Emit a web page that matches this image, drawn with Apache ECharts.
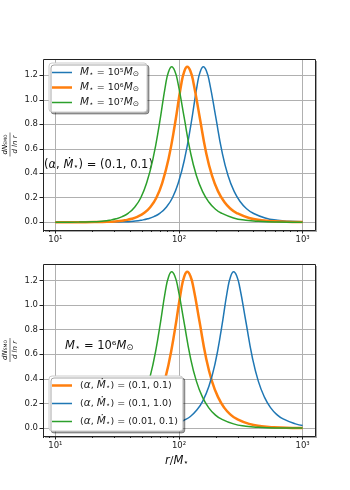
<!DOCTYPE html>
<html>
<head>
<meta charset="utf-8">
<title>dN/dlnr SMO</title>
<script src="https://cdn.jsdelivr.net/npm/echarts@6/dist/echarts.min.js"></script>
</head>
<body style="margin:0;background:#fff">
<div id="main" style="width:350px;height:490px;"></div>
<script>
// values: r/M* (log axis) and dN/dlnr
// top panel, (alpha, Mdot) = (0.1, 0.1)
var rBlueTop = [10, 19.82, 27.99, 35.24, 44.36, 49.77, 55.85, 62.66, 70.31, 78.89, 88.51, 99.31, 111.4, 125.0, 140.3, 148.6, 157.4, 166.7, 176.6, 198.2, 222.3, 249.5, 279.9, 314.1, 352.4, 395.4, 497.7, 626.6, 788.9, 1000];
var yBlueTop = [0, 0.0002, 0.001, 0.003, 0.01, 0.017, 0.028, 0.046, 0.075, 0.123, 0.20, 0.33, 0.525, 0.80, 1.12, 1.23, 1.27, 1.235, 1.14, 0.86, 0.58, 0.38, 0.25, 0.165, 0.11, 0.075, 0.035, 0.016, 0.007, 0.003];

var rOrange = [10, 14.69, 20.75, 26.12, 32.89, 36.90, 41.40, 46.45, 52.12, 58.48, 65.61, 73.62, 82.60, 92.68, 104.0, 110.2, 116.7, 123.6, 130.9, 146.9, 164.8, 184.9, 207.5, 232.8, 261.2, 293.1, 369.0, 464.5, 584.8, 826.0, 1000];
var yOrange = [0, 0.0002, 0.001, 0.003, 0.01, 0.017, 0.028, 0.046, 0.075, 0.123, 0.20, 0.33, 0.525, 0.80, 1.12, 1.23, 1.27, 1.235, 1.14, 0.86, 0.58, 0.38, 0.25, 0.165, 0.11, 0.075, 0.035, 0.016, 0.007, 0.002, 0.001];

var rGreen = [10, 10.99, 15.52, 19.54, 24.60, 27.61, 30.97, 34.75, 38.99, 43.75, 49.09, 55.08, 61.80, 69.34, 77.80, 82.41, 87.30, 92.47, 97.95, 109.9, 123.3, 138.4, 155.2, 174.2, 195.4, 219.3, 276.1, 347.5, 437.5, 618.0, 1000];
var yGreen = [0, 0.0002, 0.001, 0.003, 0.01, 0.017, 0.028, 0.046, 0.075, 0.123, 0.20, 0.33, 0.525, 0.80, 1.12, 1.23, 1.27, 1.235, 1.14, 0.86, 0.58, 0.38, 0.25, 0.165, 0.11, 0.075, 0.035, 0.016, 0.007, 0.002, 0.0005];

// bottom panel, M* = 1e6 ; the (0.1, 1.0) curve
var rBlueBot = [10, 20, 34.83, 49.20, 61.94, 77.98, 87.50, 98.18, 110.2, 123.6, 138.7, 155.6, 174.6, 195.9, 219.8, 246.6, 261.2, 276.7, 293.1, 310.5, 348.3, 390.8, 438.5, 492.0, 552.1, 619.4, 695.0, 875.0, 1000];
var yBlueBot = [0, 0.0002, 0.001, 0.004, 0.009, 0.02, 0.028, 0.042, 0.065, 0.095, 0.145, 0.22, 0.34, 0.525, 0.80, 1.12, 1.23, 1.27, 1.235, 1.14, 0.86, 0.58, 0.38, 0.25, 0.165, 0.11, 0.075, 0.035, 0.022];
var rOrangeBot = rOrange, yOrangeBot = yOrange;
var rGreenBot = rGreen, yGreenBot = yGreen;

var majorTicks = [10, 100, 1000];
var minorTicks = [8, 9, 20, 30, 40, 50, 60, 70, 80, 90, 200, 300, 400, 500, 600, 700, 800, 900];

var xMin = 7.943, xMax = 1258.9;   // 10^0.9 .. 10^3.1
var yMin = -0.0635, yMax = 1.333;

var FONT = 'DejaVu Sans';
var C_BLUE = '#1f77b4', C_ORANGE = '#ff7f0e', C_GREEN = '#2ca02c';
var supDigits = {1: '¹', 2: '²', 3: '³'};

// legend handles: a bar in a 20x10 box (thin / thick line)
var ICON_THIN = 'path://M0,0h20v0.01h-20zM0,4.25h20v1.5h-20zM0,9.99h20v0.01h-20z';
var ICON_THICK = 'path://M0,0h20v0.01h-20zM0,3.75h20v2.5h-20zM0,9.99h20v0.01h-20z';

function pairs(xs, ys) {
    return xs.map(function (x, i) { return [x, ys[i]]; });
}

var grids = [], xAxes = [], yAxes = [], frames = [];

function addPanel(top, height) {
    var g = grids.length;
    var yStep = height / (yMax - yMin);
    // frame grid (carries the data)
    grids.push({left: 43, top: top, width: 272, height: height, show: true,
        backgroundColor: '#fff', borderWidth: 0,
        shadowColor: 'rgba(0,0,0,0.35)', shadowOffsetX: 2, shadowOffsetY: 2, shadowBlur: 0});
    // tick grid for y labels / horizontal grid lines (0 .. 1.2)
    grids.push({left: 43, width: 272, top: top + (yMax - 1.2) * yStep, height: 1.2 * yStep, show: false});

    xAxes.push({gridIndex: g, type: 'log', logBase: 10, min: xMin, max: xMax,
        axisLine: {show: false}, axisTick: {show: false}, axisLabel: {show: false},
        splitLine: {show: true, showMinLine: false, showMaxLine: false, lineStyle: {color: '#b0b0b0', width: 1}}});
    xAxes.push({gridIndex: g, type: 'value', min: 0.9, max: 3.1, position: 'bottom',
        axisLine: {show: false}, splitLine: {show: false},
        axisTick: {show: true, length: 3.5, customValues: majorTicks.map(Math.log10), lineStyle: {color: '#222'}},
        axisLabel: {show: true, customValues: majorTicks.map(Math.log10), margin: 5,
            fontFamily: FONT, fontSize: 8.5, color: '#222',
            formatter: function (v) { return '10' + supDigits[Math.round(v)]; }}});
    xAxes.push({gridIndex: g, type: 'value', min: 0.9, max: 3.1, position: 'bottom',
        axisLine: {show: false}, splitLine: {show: false}, axisLabel: {show: false},
        axisTick: {show: true, length: 2, customValues: minorTicks.map(Math.log10), lineStyle: {color: '#222'}}});
    xAxes.push({gridIndex: g + 1, type: 'value', min: 0, max: 1, show: false});

    yAxes.push({gridIndex: g, type: 'value', min: yMin, max: yMax, show: false});
    yAxes.push({gridIndex: g + 1, type: 'value', min: 0, max: 1.2, interval: 0.2,
        axisLine: {show: false},
        axisTick: {show: true, length: 3.5, lineStyle: {color: '#222'}},
        axisLabel: {fontFamily: FONT, fontSize: 8.5, color: '#222', margin: 5,
            formatter: function (v) { return v.toFixed(1); }},
        splitLine: {show: true, lineStyle: {color: '#b0b0b0', width: 1}}});

    frames.push({type: 'rect', z: 50, silent: true,
        shape: {x: 43.5, y: top + 0.5, width: 272, height: height},
        style: {fill: null, stroke: '#222', lineWidth: 1}});
    return {x: xAxes.length - 4, y: yAxes.length - 2};
}

var pTop = addPanel(59, 171);
var pBot = addPanel(264, 172);

function line(name, xs, ys, color, width, p) {
    return {name: name, type: 'line', xAxisIndex: p.x, yAxisIndex: p.y,
        data: pairs(xs, ys), showSymbol: false, symbol: 'none',
        smooth: 0.5,
        lineStyle: {color: color, width: width}, itemStyle: {color: color}};
}

var series = [
    line('M5', rBlueTop, yBlueTop, C_BLUE, 1.5, pTop),
    line('M6', rOrange, yOrange, C_ORANGE, 2.5, pTop),
    line('M7', rGreen, yGreen, C_GREEN, 1.5, pTop),
    line('a01m01', rOrangeBot, yOrangeBot, C_ORANGE, 2.5, pBot),
    line('a01m10', rBlueBot, yBlueBot, C_BLUE, 1.5, pBot),
    line('a001m01', rGreenBot, yGreenBot, C_GREEN, 1.5, pBot)
];

var legendText = {
    M5: '{i|M}{s|⋆} = 10⁵{i|M}{s|⊙}',
    M6: '{i|M}{s|⋆} = 10⁶{i|M}{s|⊙}',
    M7: '{i|M}{s|⋆} = 10⁷{i|M}{s|⊙}',
    a01m01: '({i|α}, {i|Ṁ}{s|⋆}) = (0.1, 0.1)',
    a01m10: '({i|α}, {i|Ṁ}{s|⋆}) = (0.1, 1.0)',
    a001m01: '({i|α}, {i|Ṁ}{s|⋆}) = (0.01, 0.1)'
};
var richMath = {
    i: {fontFamily: FONT, fontStyle: 'italic', fontSize: 10.5, color: '#222'},
    s: {fontFamily: FONT, fontSize: 7.5, color: '#222', verticalAlign: 'bottom'}
};
function legendBox(items, top, gap, padRight) {
    return {data: items, orient: 'vertical', left: 49, top: top,
        itemWidth: 20, itemHeight: 10, itemGap: gap, padding: [4, padRight, 4, 3],
        backgroundColor: '#fff', borderColor: '#cccccc', borderWidth: 1, borderRadius: 3,
        shadowColor: 'rgba(0,0,0,0.35)', shadowOffsetX: 2, shadowOffsetY: 2, shadowBlur: 0,
        formatter: function (n) { return legendText[n]; },
        textStyle: {fontFamily: FONT, fontSize: 9.5, color: '#222', padding: [0, 0, 0, 3], rich: richMath}};
}

var bigMath = {
    i: {fontFamily: FONT, fontStyle: 'italic', fontSize: 11.5, color: '#111'},
    s: {fontFamily: FONT, fontSize: 8.5, color: '#111', verticalAlign: 'bottom'},
    n: {fontFamily: FONT, fontSize: 11.5, color: '#111'}
};

function yLabel(cy) {
    return {type: 'group', x: 10, y: cy, rotation: Math.PI / 2, silent: true, children: [
        {type: 'text', x: 0, y: -5, style: {text: '{a|d}{b|N}{c|SMO}', align: 'center', verticalAlign: 'middle',
            rich: {a: {fontFamily: FONT, fontSize: 7, fontStyle: 'italic', color: '#222'},
                   b: {fontFamily: FONT, fontSize: 7, fontStyle: 'italic', color: '#222'},
                   c: {fontFamily: FONT, fontSize: 4.5, color: '#222', verticalAlign: 'bottom'}}}},
        {type: 'line', shape: {x1: -12, y1: 0, x2: 12, y2: 0}, style: {stroke: '#222', lineWidth: 0.6}},
        {type: 'text', x: 0, y: 5, style: {text: 'd ln r', align: 'center', verticalAlign: 'middle',
            fontFamily: FONT, fontSize: 7, fontStyle: 'italic', fill: '#222'}}
    ]};
}

var chart = echarts.init(document.getElementById('main'), null, {renderer: 'canvas'});
chart.setOption({
    backgroundColor: '#fff',
    animation: false,
    grid: grids,
    xAxis: xAxes,
    yAxis: yAxes,
    legend: [
        legendBox([{name: 'M5', icon: ICON_THIN}, {name: 'M6', icon: ICON_THICK}, {name: 'M7', icon: ICON_THIN}], 63, 4, 8),
        legendBox([{name: 'a01m01', icon: ICON_THICK}, {name: 'a01m10', icon: ICON_THIN}, {name: 'a001m01', icon: ICON_THIN}], 376, 7, 5)
    ],
    series: series,
    graphic: frames.concat([
        yLabel(144.5),
        yLabel(350),
        {type: 'text', left: 44, top: 159, silent: true,
            style: {text: '({i|α}, {i|Ṁ}{s|⋆}) = {n|(0.1, 0.1)}', rich: bigMath, fontFamily: FONT, fontSize: 11.5, fill: '#111'}},
        {type: 'text', left: 65, top: 340, silent: true,
            style: {text: '{i|M}{s|⋆} = 10⁶{i|M}{s|⊙}', rich: bigMath, fontFamily: FONT, fontSize: 11.5, fill: '#111'}},
        {type: 'text', left: 165, top: 455, silent: true,
            style: {text: '{i|r}/{i|M}{s|⋆}', rich: bigMath, fontFamily: FONT, fontSize: 11, fill: '#111'}}
    ])
});
</script>
</body>
</html>
